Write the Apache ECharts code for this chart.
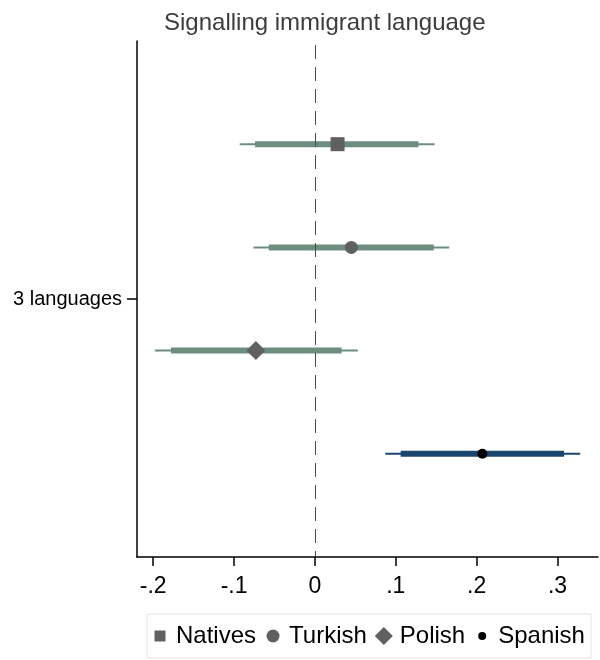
<!DOCTYPE html>
<html>
<head>
<meta charset="utf-8">
<script src="https://cdn.jsdelivr.net/npm/echarts@6/dist/echarts.min.js"></script>
<style>html,body{margin:0;padding:0;background:#fff;}#c{width:600px;height:660px;}</style>
</head>
<body>
<div id="c"></div>
<script>
const groups = ['Natives', 'Turkish', 'Polish', 'Spanish'];
const rowPos = [1, 2, 3, 4];
const estimates = [0.028, 0.045, -0.073, 0.207];
const ci90Low = [-0.074, -0.057, -0.178, 0.106];
const ci90High = [0.128, 0.147, 0.033, 0.308];
const ci95Low = [-0.093, -0.076, -0.198, 0.087];
const ci95High = [0.148, 0.166, 0.053, 0.328];
const xTicks = [-0.2, -0.1, 0, 0.1, 0.2, 0.3];
const yTickLabel = '3 languages';
const yTickPos = [2.5];

const ciColors = ['#6b8e7f', '#6b8e7f', '#6b8e7f', '#1a476f'];
const markerColors = ['#606060', '#606060', '#606060', '#000000'];
const symbols = ['rect', 'circle', 'diamond', 'circle'];
const symbolSizes = [[14, 14], 13, [19, 19], 10];
const legendIcons = [
  'path://M0 0M18 18M3.5 3.5H14.5V14.5H3.5Z',
  'path://M0 0M18 18M2.5 9A6.5 6.5 0 1 1 15.5 9A6.5 6.5 0 1 1 2.5 9Z',
  'path://M9 0L18 9L9 18L0 9Z',
  'path://M0 0M18 18M5 9A4 4 0 1 1 13 9A4 4 0 1 1 5 9Z'
];

function fmt(v) {
  if (Math.abs(v) < 1e-9) return '0';
  let s = (Math.round(v * 10) / 10).toString();
  return s.replace(/^(-?)0\./, '$1.');
}

const series = [];
series.push({
  type: 'custom',
  name: 'zero',
  data: [[0]],
  renderItem: function (params, api) {
    const top = api.coord([api.value(0), 0]);
    const bot = api.coord([api.value(0), 5]);
    const x = Math.round(top[0]) + 0.5;
    return { type: 'line', shape: { x1: x, y1: top[1], x2: x, y2: bot[1] },
      style: { stroke: '#4a4a4a', lineWidth: 1, lineDash: [14, 8], lineDashOffset: -4 } };
  },
  encode: { x: 0 },
  z: 4,
  silent: true
});
groups.forEach((g, i) => {
  series.push({
    type: 'custom',
    name: g + '_ci',
    data: [[ci95Low[i], ci95High[i], ci90Low[i], ci90High[i], rowPos[i]]],
    renderItem: function (params, api) {
      const y = api.value(4);
      const a = api.coord([api.value(0), y]);
      const b = api.coord([api.value(1), y]);
      const c = api.coord([api.value(2), y]);
      const d = api.coord([api.value(3), y]);
      return {
        type: 'group',
        children: [
          { type: 'line', shape: { x1: a[0], y1: a[1], x2: b[0], y2: b[1] }, style: { stroke: ciColors[i], lineWidth: 2 } },
          { type: 'line', shape: { x1: c[0], y1: c[1], x2: d[0], y2: d[1] }, style: { stroke: ciColors[i], lineWidth: 6 } }
        ]
      };
    },
    encode: { x: [0, 1, 2, 3], y: 4 },
    z: 2,
    silent: true
  });
});
groups.forEach((g, i) => {
  series.push({
    type: 'scatter',
    name: g,
    data: [[estimates[i], rowPos[i]]],
    symbol: symbols[i],
    symbolSize: symbolSizes[i],
    itemStyle: { color: markerColors[i], opacity: 1 },
    z: 5
  });
});

const chart = echarts.init(document.getElementById('c'), null, { renderer: 'canvas' });
chart.setOption({
  animation: false,
  backgroundColor: '#fff',
  title: {
    text: 'Signalling immigrant language',
    left: 159, top: 6,
    textStyle: { fontFamily: 'Liberation Sans, Arial, sans-serif', fontSize: 24, fontWeight: 'normal', color: '#3c3c3c' }
  },
  grid: { left: 137, right: 2, top: 41, bottom: 103 },
  xAxis: {
    type: 'value', min: -0.22, max: 0.35, position: 'bottom',
    axisLine: { show: true, onZero: false, lineStyle: { color: '#000', width: 1.5 } },
    axisTick: { show: true, customValues: xTicks, length: 9, lineStyle: { color: '#000', width: 1.5 } },
    axisLabel: { customValues: xTicks, formatter: fmt, fontSize: 23, color: '#000', margin: 18, fontFamily: 'Liberation Sans, Arial, sans-serif' },
    splitLine: { show: false }
  },
  yAxis: {
    type: 'value', min: 0, max: 5, inverse: true, position: 'left',
    axisLine: { show: true, onZero: false, lineStyle: { color: '#000', width: 1.5 } },
    axisTick: { show: true, customValues: yTickPos, length: 10, lineStyle: { color: '#000', width: 1.5 } },
    axisLabel: { customValues: yTickPos, formatter: () => yTickLabel, fontSize: 20, color: '#000', margin: 15, fontFamily: 'Liberation Sans, Arial, sans-serif' },
    splitLine: { show: false }
  },
  legend: {
    left: 147, top: 614,
    data: groups.map((g, i) => ({ name: g, icon: legendIcons[i], itemStyle: { color: markerColors[i] } })),
    itemWidth: 18, itemHeight: 18, itemGap: 8,
    padding: [10, 6, 10, 4],
    borderColor: '#dfe7ec', borderWidth: 1,
    textStyle: { fontSize: 24, color: '#000', fontFamily: 'Liberation Sans, Arial, sans-serif', padding: [0, 0, 0, 2] },
    selectedMode: false
  },
  series: series
});
</script>
</body>
</html>
